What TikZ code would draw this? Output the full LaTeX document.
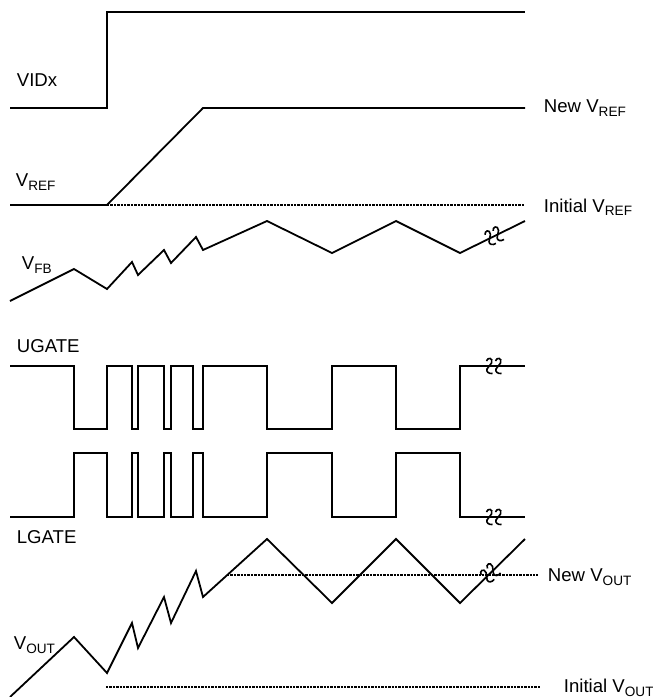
\documentclass[tikz,border=0pt]{standalone}
\usepackage{fontspec}
\setmainfont{Liberation Sans}
\newcommand{\sig}[2]{#1\raisebox{-0.35ex}{\fontsize{6.8}{7}\selectfont #2}}

\begin{document}
\begin{tikzpicture}[x=0.5pt, y=-0.5pt, line width=0.9pt,
    every node/.style={font=\fontsize{9.3}{11}\selectfont, inner sep=0pt, anchor=west},
    level/.style={dash pattern=on 1.2pt off 0.5pt, line width=1.4pt},
    brk/.pic={
        \foreach \dx in {-4.5,4.5}
            \draw[line width=0.8pt, xshift=\dx*0.5pt] (-3,-5) .. controls (-2,-9) and (4,-8.5) .. (2,-3)
                -- (-2.5,3) .. controls (-3.5,5.5) and (-1,8) .. (3,7.5);
    }]
    \useasboundingbox (0,0) rectangle (653,697);

    % VIDx step.
    \node (vidx) at (16,80) {VIDx};
    \draw (10,108) -| (107,12) -- (525,12);

    % Reference ramp.
    \node (vref) at (15,182) {\sig{V}{REF}};
    \node (newref) at (543,108) {New \sig{V}{REF}};
    \node (iniref) at (543,207) {Initial \sig{V}{REF}};
    \draw (10,205) -- (107,205) -- (203,108) -- (525,108);
    \draw[level] (107,205) -- (525,205);

    % Feedback voltage.
    \node (vfb) at (21,265) {\sig{V}{FB}};
    \draw (10,301) -- (74,269) -- (107,289) -- (132,262) -- (138,275) -- (164,250) -- (171,263)
        -- (196,237) -- (203,250) -- (267,221) -- (332,253) -- (396,221) -- (460,253) -- (525,221);
    \pic[rotate=26] at (494,236) {brk};

    % Upper gate.
    \node (ugate) at (16,346) {UGATE};
    \draw (10,366) -| (74,429) -| (107,366) -| (132,429) -| (138,366) -| (164,429) -| (171,366)
        -| (193,429) -| (203,366) -| (267,429) -| (332,366) -| (396,429) -| (460,366) -- (525,366);
    \pic at (494,366) {brk};

    % Lower gate.
    \node (lgate) at (16,537) {LGATE};
    \draw (10,517) -| (74,453) -| (107,517) -| (132,453) -| (138,517) -| (164,453) -| (171,517)
        -| (193,453) -| (203,517) -| (267,453) -| (332,517) -| (396,453) -| (460,517) -- (525,517);
    \pic at (494,517) {brk};

    % Output voltage.
    \node (vout) at (13,645) {\sig{V}{OUT}};
    \node (newout) at (547,577) {New \sig{V}{OUT}};
    \node (iniout) at (563,688) {Initial \sig{V}{OUT}};
    \draw (10,697) -- (74,637) -- (107,673) -- (132,623) -- (138,648) -- (164,597) -- (171,623)
        -- (196,571) -- (203,597) -- (267,539) -- (332,603) -- (396,539) -- (460,603) -- (525,539);
    \draw[level] (227,575) -- (538,575);
    \draw[level] (106,687) -- (541,687);
    \pic[rotate=45] at (490,573) {brk};

\end{tikzpicture}
\end{document}
